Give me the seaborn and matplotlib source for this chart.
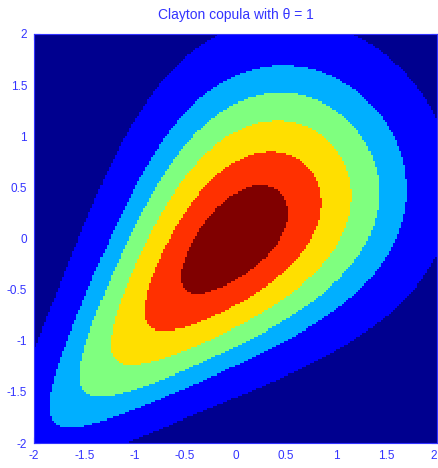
import math
import numpy as np
import pandas as pd
import seaborn as sns
import matplotlib.pyplot as plt
from matplotlib.colors import ListedColormap, BoundaryNorm

# Clayton copula parameter and plotting window
theta = 1
axis_min, axis_max = -2, 2
n_cells = 200

# contour levels and the jet-like fill colours between them
levels = [0, 0.019, 0.046, 0.070, 0.099, 0.133, 0.166, 1.0]
colors = ["#00008f", "#0000ff", "#00afff", "#7fff7f", "#ffdf00", "#ff3000", "#800000"]
ticks = [-2, -1.5, -1, -0.5, 0, 0.5, 1, 1.5, 2]
tick_labels = ["-2", "-1.5", "-1", "-0.5", "0", "0.5", "1", "1.5", "2"]

# density of the Clayton copula with standard normal margins
step = (axis_max - axis_min) / n_cells
grid = axis_min + step * (np.arange(n_cells) + 0.5)
X, Y = np.meshgrid(grid, grid)
norm_cdf = np.vectorize(lambda z: 0.5 * (1 + math.erf(z / math.sqrt(2))))
norm_pdf = lambda z: np.exp(-z ** 2 / 2) / np.sqrt(2 * np.pi)
u, v = norm_cdf(X), norm_cdf(Y)
c = (1 + theta) * (u * v) ** (-1 - theta) * (u ** -theta + v ** -theta - 1) ** (-2 - 1 / theta)
density = c * norm_pdf(X) * norm_pdf(Y)
df = pd.DataFrame(density, index=grid, columns=grid)

sns.set_style("ticks")
plt.rcParams['font.family'] = ['Liberation Sans', 'DejaVu Sans']
blue = "#3333ff"

fig = plt.figure(figsize=(4.38, 4.68), dpi=100)
ax = fig.add_axes([34 / 438, 25 / 468, 403 / 438, 409 / 468])
sns.heatmap(df, ax=ax, cmap=ListedColormap(colors), norm=BoundaryNorm(levels, len(colors)),
            cbar=False, xticklabels=False, yticklabels=False)
ax.invert_yaxis()

tick_pos = [(t - axis_min) / step for t in ticks]
ax.set_xticks(tick_pos, tick_labels)
ax.set_yticks(tick_pos, tick_labels)
ax.tick_params(direction="in", top=True, right=True, length=4, width=0.8,
               colors=blue, labelsize=8.5, pad=5)
# last x label sits at the figure edge; keep it inside
ax.get_xticklabels()[-1].set_horizontalalignment("right")
for s in ax.spines.values():
    s.set_visible(True)
    s.set_color(blue)
    s.set_linewidth(0.8)
ax.set_xlabel("")
ax.set_ylabel("")
ax.set_title("Clayton copula with θ = 1", color=blue, fontsize=10, pad=11)

fig.savefig("out.png", dpi=100)
